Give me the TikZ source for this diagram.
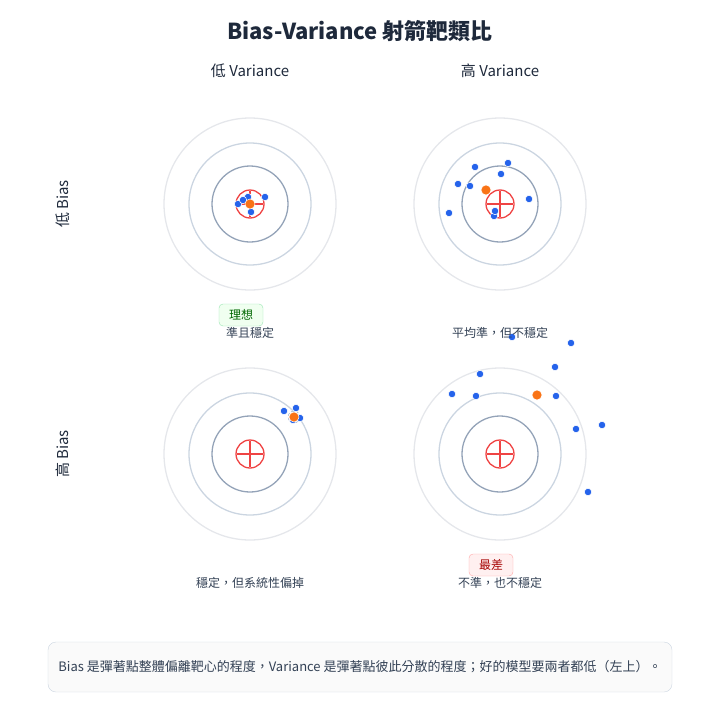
\documentclass[tikz,border=0pt]{standalone}
\usepackage{fontspec}
\setmainfont{Noto Sans CJK TC}
\definecolor{hitc}{HTML}{2563EB}
\definecolor{meanc}{HTML}{F97316}
\definecolor{redc}{HTML}{EF4444}
\definecolor{r1c}{HTML}{E5E7EB}
\definecolor{r2c}{HTML}{CBD5E1}
\definecolor{r3c}{HTML}{94A3B8}
\definecolor{txtc}{HTML}{334155}
\definecolor{darkc}{HTML}{1E293B}
\begin{document}
\begin{tikzpicture}[x=1pt,y=-1pt,
 ring1/.style={draw=r1c,line width=1.3pt},
 ring2/.style={draw=r2c,line width=1.3pt},
 ring3/.style={draw=r3c,line width=1.3pt},
 bull/.style={draw=redc,line width=1.3pt},
 hit/.style={fill=hitc,draw=white,line width=0.5pt},
 mean/.style={fill=meanc,draw=white,line width=0.5pt},
 captxt/.style={font=\fontsize{12}{14}\selectfont,text=txtc},
 hdr/.style={font=\fontsize{15}{17}\selectfont,text=darkc}]
\useasboundingbox (0,0) rectangle (720,720);
\node[font=\bfseries\fontsize{22}{25}\selectfont,text=darkc] (title) at (360,31) {Bias-Variance 射箭靶類比};
\node[hdr] (c1) at (250,71) {低 Variance};
\node[hdr] (c2) at (500,71) {高 Variance};
\node[hdr,rotate=90] (r1) at (63,204) {低 Bias};
\node[hdr,rotate=90] (r2) at (63,454) {高 Bias};
\foreach \n/\cx/\cy in {a/250/204,b/500/204,c/250/454,d/500/454}{
 \draw[ring1] (\cx,\cy) circle (86);
 \draw[ring2] (\cx,\cy) circle (61);
 \draw[ring3] (\cx,\cy) circle (38);
 \draw[bull] (\cx,\cy) circle (14);
 \draw[bull] (\cx-13,\cy) -- (\cx+13,\cy) (\cx,\cy-13) -- (\cx,\cy+13);
 \coordinate (\n) at (\cx,\cy);
}
% TL
\foreach \p in {(238,204),(248,197),(265,197),(251,212),(243,200)} \fill[hit] \p circle (3.7);
\fill[mean] (250,204) circle (5);
% TR
\foreach \p in {(475,167),(508,163),(501,174),(458,184),(470,186),(449,213),(529,199),(494,216),(495,211)} \fill[hit] \p circle (3.7);
\fill[mean] (486,190) circle (5);
% BL
\draw[r3c,densely dashed] (294,417) circle (6);
\foreach \p in {(284,411),(296,408),(300,418),(293,420)} \fill[hit] \p circle (3.7);
\fill[mean] (294,417) circle (5);
% BR
\foreach \p in {(512,337),(571,343),(555,367),(480,374),(452,394),(476,396),(556,396),(576,429),(602,425),(588,492)} \fill[hit] \p circle (3.7);
\fill[mean] (537,395) circle (5);
% labels
\node[draw=green!50!teal!40,fill=green!6,rounded corners=4pt,text=green!40!black,font=\fontsize{12}{14}\selectfont,minimum width=44pt,minimum height=22pt] (g) at (241,315) {理想};
\node[captxt] (ca) at (250,333) {準且穩定};
\node[captxt] (cb) at (500,333) {平均準，但不穩定};
\node[captxt] (cc) at (250,583) {穩定，但系統性偏掉};
\node[draw=red!35,fill=red!6,rounded corners=4pt,text=red!65!black,font=\fontsize{12}{14}\selectfont,minimum width=44pt,minimum height=22pt] (w) at (491,565) {最差};
\node[captxt] (cd) at (500,583) {不準，也不穩定};
\node[draw=r2c,fill=blue!2!gray!4,rounded corners=8pt,minimum width=624pt,minimum height=50pt,font=\fontsize{13}{15}\selectfont,text=txtc] (foot) at (360,667) {Bias 是彈著點整體偏離靶心的程度，Variance 是彈著點彼此分散的程度；好的模型要兩者都低（左上）。};
\end{tikzpicture}
\end{document}
